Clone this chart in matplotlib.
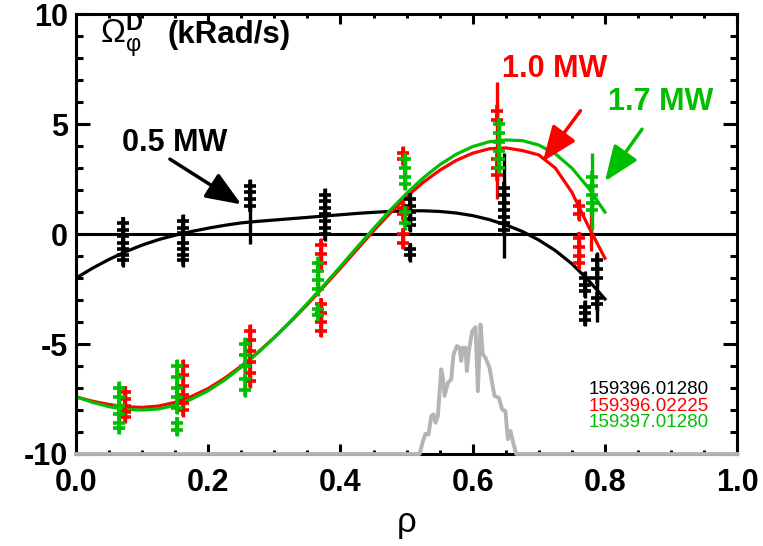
import numpy as np
import matplotlib.pyplot as plt
from matplotlib.ticker import MultipleLocator

plt.rcParams['font.family'] = ['Liberation Sans', 'DejaVu Sans']
plt.rcParams['mathtext.fontset'] = 'custom'
plt.rcParams['mathtext.rm'] = 'Liberation Sans'
plt.rcParams['mathtext.it'] = 'Liberation Sans'
plt.rcParams['mathtext.bf'] = 'Liberation Sans:bold'
plt.rcParams['axes.unicode_minus'] = False

GREEN = '#00be00'
GRAY = '#b4b4b4'

# ====== FITTED PROFILES ======
rho_fit = [0.000, 0.025, 0.050, 0.075, 0.100, 0.125, 0.150, 0.175, 0.200, 0.225,
           0.250, 0.275, 0.300, 0.325, 0.350, 0.375, 0.400, 0.425, 0.450, 0.475,
           0.500, 0.525, 0.550, 0.575, 0.600, 0.625, 0.650, 0.675, 0.700, 0.725,
           0.750, 0.775, 0.800]
fit_05 = [-2.00, -1.55, -1.15, -0.80, -0.50, -0.25, -0.05, 0.12, 0.27, 0.40,
          0.51, 0.58, 0.64, 0.70, 0.76, 0.82, 0.88, 0.94, 0.99, 1.03,
          1.06, 1.06, 1.03, 0.96, 0.84, 0.66, 0.42, 0.12, -0.27, -0.75,
          -1.35, -2.10, -2.95]
fit_10 = [-7.40, -7.60, -7.75, -7.85, -7.88, -7.82, -7.65, -7.38, -7.02, -6.55,
          -6.00, -5.38, -4.70, -3.97, -3.20, -2.38, -1.55, -0.70, 0.15, 0.95,
          1.70, 2.35, 2.90, 3.35, 3.68, 3.88, 3.92, 3.80, 3.60, 3.00,
          1.90, 0.35, -1.10]
fit_17 = [-7.40, -7.65, -7.85, -7.97, -8.00, -7.95, -7.78, -7.50, -7.12, -6.63,
          -6.05, -5.40, -4.70, -3.95, -3.15, -2.32, -1.47, -0.60, 0.25, 1.08,
          1.85, 2.55, 3.15, 3.63, 3.98, 4.20, 4.28, 4.25, 4.05, 3.65,
          3.00, 2.10, 1.00]

# ====== MEASURED POINTS (per channel) ======
ch_05 = [0.071, 0.162, 0.263, 0.376, 0.505, 0.647, 0.770, 0.788]
val_05 = [[0.5, 0.2, -0.1, -0.4, -0.7, -0.95, -1.2],
          [0.6, 0.3, 0.05, -0.4, -0.7, -0.95, -1.2],
          [2.2, 1.9, 1.6, 1.3],
          [1.8, 1.5, 1.2, 0.9, 0.6, 0.3, 0.0],
          [1.6, 1.3, 1.0, 0.7, 0.4, -0.7, -0.95],
          [2.1, 1.8, 1.4, 1.1, 0.8, 0.5, 0.2],
          [-2.0, -2.3, -2.6, -3.3, -3.6, -3.9],
          [-1.2, -1.6, -2.0, -2.9, -3.2]]
wide_05 = [(0.263, 0.5, 0.95), (0.647, 1.3, 2.4), (0.788, -2.4, 1.6)]

ch_10 = [0.074, 0.162, 0.263, 0.371, 0.494, 0.636, 0.760]
val_10 = [[-7.2, -7.5, -7.8, -8.1, -8.3],
          [-6.0, -6.4, -6.9, -7.3, -7.7, -8.0],
          [-4.4, -4.8, -5.3, -5.8, -6.3, -6.7],
          [-0.5, -0.9, -1.3, -3.2, -3.6, -4.0, -4.4],
          [3.7, 3.4, 1.2, 0.9, 0.0, -0.4],
          [5.6, 5.2, 3.4, 3.0, 2.7],
          [1.3, 0.9, -0.2, -0.6, -1.0, -1.3]]
wide_10 = [(0.636, 4.25, 2.65), (0.779, 0.15, 0.9)]

ch_17 = [0.065, 0.153, 0.255, 0.366, 0.497, 0.640, 0.780]
val_17 = [[-7.0, -7.4, -7.8, -8.2, -8.6, -8.8],
          [-6.0, -6.5, -7.0, -7.4, -7.9, -8.6, -8.9],
          [-5.0, -5.5, -6.0, -6.6, -7.1],
          [-1.3, -1.7, -2.1, -2.5, -3.4, -3.7],
          [3.4, 3.0, 2.6, 2.3, 1.0, 0.5],
          [5.0, 4.6, 4.2, 3.8, 3.4, 3.0],
          [2.6, 2.2, 1.8, 1.4, 1.1]]
wide_17 = [(0.780, 1.95, 1.75)]

# ====== DEPOSITION PROFILE (gray, clipped at -10) ======
rho_dep = [0.0, 0.5196, 0.5247, 0.5287, 0.5332, 0.5373, 0.5408, 0.5438, 0.5473,
           0.5524, 0.5549, 0.5574, 0.5624, 0.5675, 0.5710, 0.5760, 0.5801, 0.5826,
           0.5851, 0.5891, 0.5911, 0.5942, 0.5992, 0.6042, 0.6078, 0.6118, 0.6153,
           0.6193, 0.6254, 0.6329, 0.6395, 0.6445, 0.6495, 0.6531, 0.6571, 0.6606,
           0.6657, 1.0]
dep = [-10.0, -10.0, -9.41, -9.08, -9.11, -8.27, -8.20, -8.58, -8.27,
       -6.15, -6.53, -7.36, -6.76, -6.61, -5.47, -5.09, -5.17, -5.77,
       -5.17, -5.17, -6.23, -5.32, -4.41, -4.23, -7.14, -4.11, -5.47,
       -5.62, -6.08, -7.36, -7.44, -7.97, -8.05, -9.33, -8.95, -9.41,
       -10.0, -10.0]

shots = ['159396.01280', '159396.02225', '159397.01280']
shot_colors = ['black', 'red', GREEN]
ERR = 0.3

fig = plt.figure(figsize=(7.63, 5.46), dpi=100)
ax = fig.add_axes([0.0996, 0.1685, 0.8666, 0.8055])

ax.axhline(0, color='black', lw=2.2, zorder=1)


def draw_points(ch, vals, wide, color):
    xs, ys = [], []
    for r, vv in zip(ch, vals):
        xs += [r] * len(vv)
        ys += vv
    ax.errorbar(xs, ys, yerr=ERR, fmt='+', color=color, ms=8, mew=2.6,
                elinewidth=2.4, capsize=0, zorder=2)
    for r, v, e in wide:
        ax.errorbar([r], [v], yerr=e, fmt='none', ecolor=color,
                    elinewidth=2.4, capsize=0, zorder=2)


draw_points(ch_05, val_05, wide_05, 'black')
ax.plot(rho_fit, fit_05, color='black', lw=2.3, zorder=2)
draw_points(ch_10, val_10, wide_10, 'red')
ax.plot(rho_fit, fit_10, color='red', lw=2.3, zorder=2)
draw_points(ch_17, val_17, wide_17, GREEN)
ax.plot(rho_fit, fit_17, color=GREEN, lw=2.3, zorder=2)

ax.plot(rho_dep, dep, color=GRAY, lw=2.8, zorder=5, clip_on=False)

# labels with arrows
arrow_kw = dict(arrowstyle='-|>,head_length=0.9,head_width=0.36',
                mutation_scale=24, lw=2.5, shrinkA=0, shrinkB=0)
ax.annotate('', xy=(0.250, 1.35), xytext=(0.142, 3.41),
            arrowprops=dict(color='black', **arrow_kw))
ax.annotate('', xy=(0.706, 3.30), xytext=(0.763, 5.61),
            arrowprops=dict(color='red', **arrow_kw))
ax.annotate('', xy=(0.800, 2.40), xytext=(0.856, 4.77),
            arrowprops=dict(color=GREEN, **arrow_kw))
ax.text(0.149, 4.14, '0.5 MW', color='black', fontsize=22, fontweight='bold',
        ha='center', va='center')
ax.text(0.724, 7.5, '1.0 MW', color='red', fontsize=22, fontweight='bold',
        ha='center', va='center')
ax.text(0.884, 6.0, '1.7 MW', color=GREEN, fontsize=22, fontweight='bold',
        ha='center', va='center')

# quantity label
ax.text(0.036, 8.7, r'$\Omega_{\varphi}^{\mathbf{D}}$', fontsize=24,
        ha='left', va='baseline')
ax.text(0.139, 8.7, '(kRad/s)', fontsize=22.5, fontweight='bold',
        ha='left', va='baseline')

# shot list
for i, (s, c) in enumerate(zip(shots, shot_colors)):
    ax.text(0.957, -7.08 - 0.75 * i, s, color=c, fontsize=13.5,
            ha='right', va='center')

ax.set_xlim(0, 1)
ax.set_ylim(-10, 10)
ax.xaxis.set_major_locator(MultipleLocator(0.2))
ax.xaxis.set_minor_locator(MultipleLocator(0.05))
ax.yaxis.set_major_locator(MultipleLocator(5))
ax.yaxis.set_minor_locator(MultipleLocator(1))
ax.xaxis.set_major_formatter(plt.FormatStrFormatter('%.1f'))
ax.tick_params(axis='both', which='both', direction='in', top=True, right=True,
               width=2.2, labelsize=22)
ax.tick_params(axis='x', which='major', length=7, pad=10)
ax.tick_params(axis='x', which='minor', length=3)
ax.tick_params(axis='y', which='major', length=10, pad=6)
ax.tick_params(axis='y', which='minor', length=5)
for lab in ax.get_xticklabels() + ax.get_yticklabels():
    lab.set_fontweight('bold')
for sp in ax.spines.values():
    sp.set_linewidth(2.2)

ax.set_xlabel('ρ', fontsize=25, labelpad=6)

fig.savefig('out.png', dpi=100)
